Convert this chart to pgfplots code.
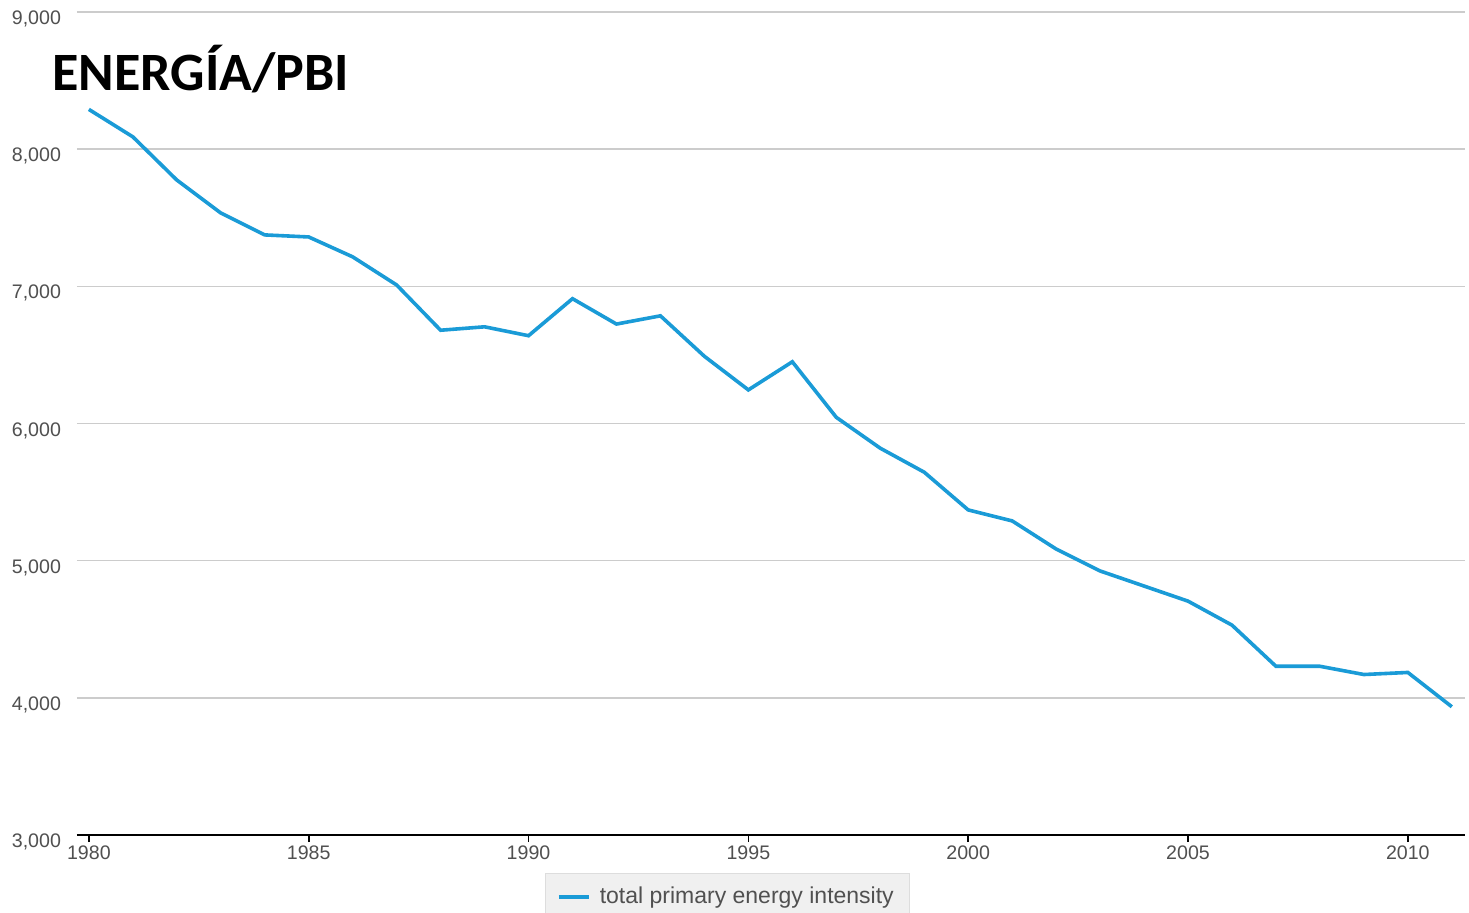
\documentclass[border=0pt]{standalone}
\usepackage{fontspec}
\setmainfont{Liberation Sans}
\newfontfamily\titlefont{Carlito}
\usepackage{pgfplots}
\pgfplotsset{compat=1.18}
\definecolor{lineblue}{HTML}{1A9BD7}
\definecolor{tickgray}{HTML}{505050}
\definecolor{gridgray}{HTML}{CCCCCC}
\definecolor{legfill}{HTML}{F0F0F0}
\definecolor{legdraw}{HTML}{DDDDDD}
\begin{document}
\begin{tikzpicture}[x=1pt,y=1pt]
\useasboundingbox (0,0) rectangle (734.5,456);
\fill[white] (0,0) rectangle (734.5,456);
\begin{axis}[
  at={(38.5pt,38.5pt)}, anchor=south west,
  scale only axis, width=694pt, height=411.5pt,
  xmin=1979.73, xmax=2011.3, ymin=3000, ymax=9000,
  axis x line*=bottom, axis y line*=left,
  x axis line style={black, line width=1pt, -},
  y axis line style={draw=none},
  xtick={1980,1985,...,2010},
  ytick={3000,4000,...,9000},
  ymajorgrids, grid style={gridgray, line width=0.8pt},
  tick align=outside, major tick length=3.5pt,
  xtick style={black, line width=0.8pt},
  ytick style={draw=none},
  xticklabel style={font=\fontsize{9.8}{11}\selectfont, text=tickgray, yshift=1.5pt, /pgf/number format/1000 sep={}},
  yticklabel style={font=\fontsize{9.8}{11}\selectfont, text=tickgray, yshift=-3.5pt, xshift=-1pt},
  /pgf/number format/assume math mode=true,
  /pgf/number format/.cd, 1000 sep={,}, /pgfplots/.cd,
  legend style={at={(axis description cs:0.337,-0.046)}, anchor=north west,
    fill=legfill, draw=legdraw, font=\fontsize{11.5}{13}\selectfont, text=tickgray,
    inner xsep=6pt, inner ysep=5pt},
  legend image code/.code={\draw[#1] (0pt,0pt) -- (15pt,0pt);},
  clip=false,
]
\addplot[lineblue, line width=1.8pt] coordinates {
(1980,8290) (1981,8090) (1982,7775) (1983,7535) (1984,7375) (1985,7360)
(1986,7215) (1987,7010) (1988,6680) (1989,6705) (1990,6640) (1991,6910)
(1992,6725) (1993,6785) (1994,6490) (1995,6245) (1996,6450) (1997,6045)
(1998,5820) (1999,5645) (2000,5370) (2001,5290) (2002,5085) (2003,4925)
(2004,4815) (2005,4705) (2006,4530) (2007,4230) (2008,4230) (2009,4170)
(2010,4185) (2011,3935)
};
\addlegendentry{\hspace{2.5pt}total primary energy intensity}
\end{axis}
\node[anchor=base west, inner sep=0pt, font=\titlefont\bfseries\fontsize{27}{31}\selectfont] at (26,410.5) {ENERGÍA/PBI};
\end{tikzpicture}
\end{document}
